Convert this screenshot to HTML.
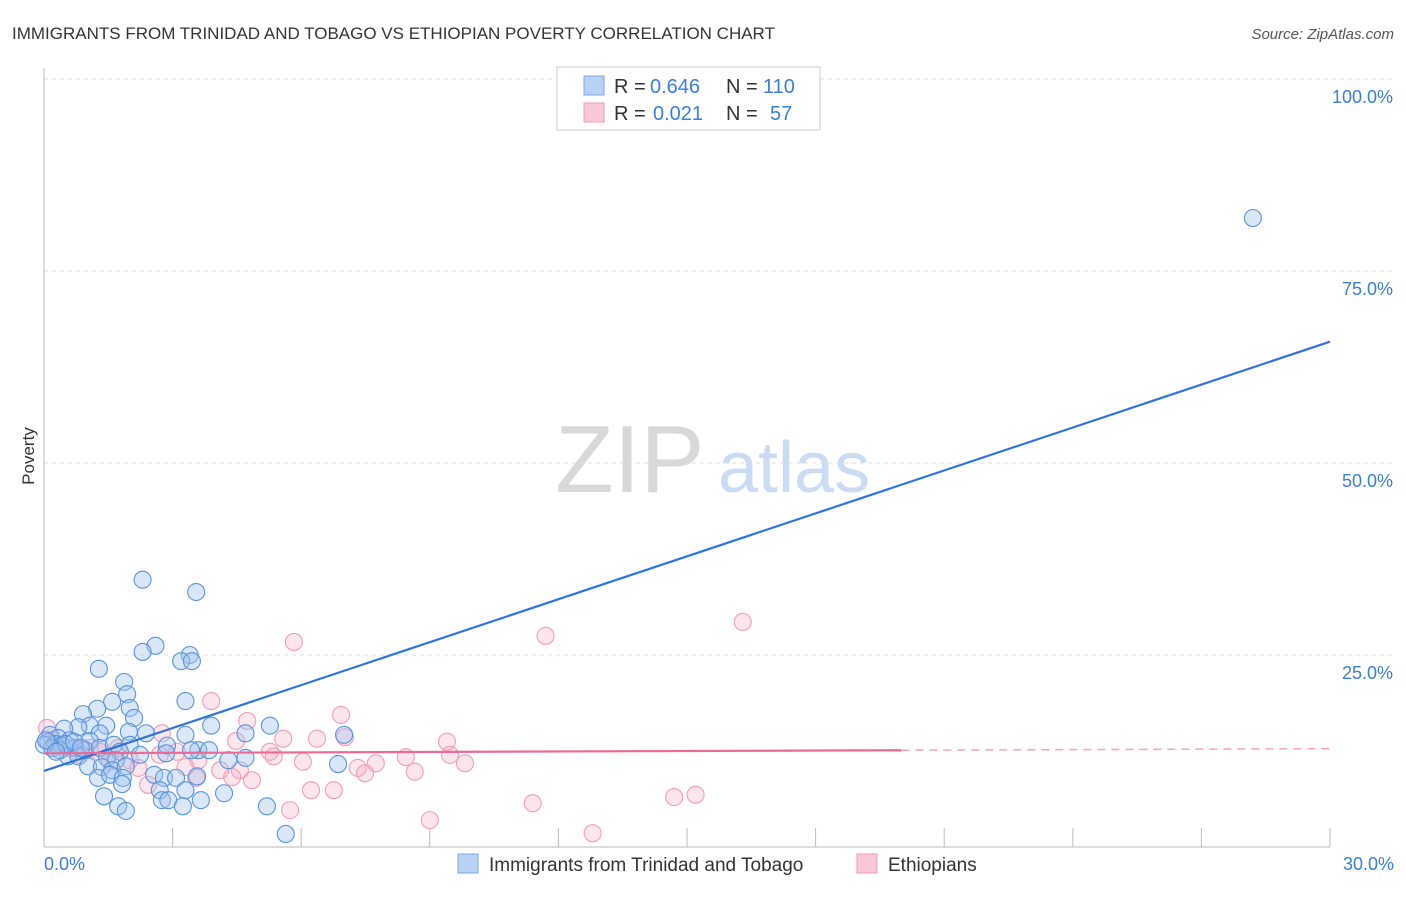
<!DOCTYPE html>
<html><head><meta charset="utf-8"><style>
body{margin:0;background:#fff;font-family:"Liberation Sans",sans-serif}
svg text{font-family:"Liberation Sans",sans-serif}
</style></head><body>
<svg id="c" width="1406" height="892">
<text x="12" y="39" font-size="17" fill="#333">IMMIGRANTS FROM TRINIDAD AND TOBAGO VS ETHIOPIAN POVERTY CORRELATION CHART</text>
<text x="1394" y="39" font-size="15" fill="#555" font-style="italic" text-anchor="end">Source: ZipAtlas.com</text>
<text x="34" y="456" font-size="17" fill="#333" transform="rotate(-90 34 456)" text-anchor="middle">Poverty</text>
<text x="555" y="492" font-size="96" fill="#d8d8d8" font-family="Liberation Serif">ZIP</text>
<text x="718" y="492" font-size="72" fill="#c9dcf3">atlas</text>
<g id="grid"></g><g id="pts"></g><g id="lines"></g>
<g>
<rect x="557" y="67" width="263" height="63" fill="#fff" stroke="#ccc"/>
<rect x="584" y="76" width="20" height="19" fill="#b7d2f4" stroke="#7aa8e0"/>
<rect x="584" y="103" width="20" height="19" fill="#f9c7d6" stroke="#f09ab5"/>
<text x="614" y="93" font-size="20" fill="#333">R =</text>
<text x="650" y="93" font-size="20" fill="#3b7dd8">0.646</text>
<text x="726" y="93" font-size="20" fill="#333">N =</text>
<text x="763" y="93" font-size="20" fill="#3b7dd8">110</text>
<text x="614" y="120" font-size="20" fill="#333">R =</text>
<text x="653" y="120" font-size="20" fill="#3b7dd8">0.021</text>
<text x="726" y="120" font-size="20" fill="#333">N =</text>
<text x="770" y="120" font-size="20" fill="#3b7dd8">57</text>
</g>
<g>
<rect x="458" y="854" width="20" height="19" fill="#b7d2f4" stroke="#7aa8e0"/>
<text x="489" y="871" font-size="19" fill="#333">Immigrants from Trinidad and Tobago</text>
<rect x="857" y="854" width="20" height="19" fill="#f9c7d6" stroke="#f09ab5"/>
<text x="888" y="871" font-size="19" fill="#333">Ethiopians</text>
</g>
</svg>
<script>
const xTicks=[0,3,6,9,12,15,18,21,24,27,30];
const yTicks=[25,50,75,100];
const yTickLabels=["25.0%","50.0%","75.0%","100.0%"];
const blueX=[28.2,2.3,3.55,2.6,2.3,3.4,3.2,3.45,1.28,3.3,1.87,1.94,1.59,2.0,1.24,0.91,2.1,3.9,5.27,1.45,1.07,0.8,0.47,1.98,2.38,3.3,4.7,7.0,1.3,0.14,0.33,0.6,1.07,0.1,0.26,0.42,0.72,0.96,1.3,1.63,2.0,2.87,3.6,3.85,3.43,2.85,1.77,2.24,0.56,0.8,1.47,1.68,4.7,4.3,6.86,1.03,1.35,1.59,1.91,2.57,2.8,3.08,3.57,1.26,1.54,1.84,1.82,2.7,3.3,4.2,1.4,2.75,2.9,3.24,3.66,1.73,1.91,5.2,5.64,0,0.19,0.05,0.37,0.51,0.7,0.28,0.86];
const blueY=[81.9,34.8,33.2,26.2,25.4,25.0,24.2,24.2,23.2,19.0,21.5,19.9,18.9,18.1,18.0,17.3,16.8,15.8,15.8,15.8,15.8,15.6,15.4,15.0,14.8,14.6,14.8,14.6,14.8,14.6,14.2,13.9,13.8,13.7,13.4,13.2,12.9,12.6,12.9,13.3,13.3,13.2,12.6,12.6,12.6,12.2,12.4,12.0,11.8,11.8,11.6,11.3,11.6,11.3,10.8,10.5,10.4,10.0,10.5,9.4,9.0,9.0,9.2,9.0,9.4,9.0,8.2,7.4,7.4,7.0,6.6,6.1,6.1,5.3,6.1,5.3,4.7,5.3,1.7,13.3,12.9,13.9,12.6,13.4,13.7,12.4,12.9];
const pinkX=[16.3,11.7,5.83,3.9,6.93,4.74,7.02,6.37,5.58,9.4,2.75,4.48,5.27,5.36,8.44,9.47,6.04,7.32,7.74,9.82,7.49,8.65,4.57,4.11,3.55,4.85,4.39,2.43,6.23,6.76,5.74,11.4,14.7,15.2,9.0,12.8,0.07,0.19,0.37,0.6,1.07,1.3,1.73,2.0,3.6,1.54,2.7,3.1,3.3,2.2,0.84];
const pinkY=[29.3,27.5,26.7,19.0,17.2,16.4,14.3,14.1,14.1,13.7,14.8,13.8,12.4,11.8,11.7,12.0,11.1,10.3,10.9,10.9,9.6,9.8,10.0,10.0,9.0,8.7,9.1,8.1,7.4,7.4,4.8,5.7,6.5,6.8,3.5,1.8,15.5,13.9,13.3,12.9,12.9,12.4,12.9,11.3,11.3,11.1,12.0,12.4,10.4,10.3,12.0];
const blueTrend=[9.9,65.8];
const pinkTrend=[12.2,12.8];
const X=v=>44+v*(1330-44)/30, Y=v=>847-v*7.68;
const NS="http://www.w3.org/2000/svg";
function mk(t,a,p){const e=document.createElementNS(NS,t);for(const k in a)e.setAttribute(k,a[k]);p.appendChild(e);return e;}
const g=document.getElementById('grid');
yTicks.forEach((v,i)=>{
 const l=mk('line',{x1:44,x2:1394,y1:Y(v),y2:Y(v),stroke:'#ddd','stroke-dasharray':'4,4'},g);
 
 
 const t=mk('text',{x:1393,y:Y(v)+24,'font-size':18,fill:'#3b7dd8','text-anchor':'end'},g);
 t.textContent=yTickLabels[i];
 
 
});
const ax=mk('line',{x1:44,x2:44,y1:68,y2:847,stroke:'#bbb'},g);


const bx=mk('line',{x1:44,x2:1330,y1:847,y2:847,stroke:'#bbb'},g);


xTicks.slice(1).forEach(v=>{
 const l=mk('line',{x1:X(v),x2:X(v),y1:828,y2:847,stroke:'#bbb'},g);
 
 
});
[[0,"0.0%","start",44],[30,"30.0%","end",1394]].forEach(d=>{
 const t=mk('text',{x:d[3],y:870,'font-size':18,fill:'#3b7dd8','text-anchor':d[2]},g);
 t.textContent=d[1];
 
 
});
const p=document.getElementById('pts');
pinkX.forEach((v,i)=>{
 const c=mk('circle',{cx:X(v),cy:Y(pinkY[i]),r:8.5,fill:'rgba(246,170,195,0.3)',stroke:'#f29cb8','stroke-width':1.1},p);
 
 
});
blueX.forEach((v,i)=>{
 const c=mk('circle',{cx:X(v),cy:Y(blueY[i]),r:8.5,fill:'rgba(160,196,240,0.4)',stroke:'#5b93d9','stroke-width':1.1},p);
 
 
});
const L=document.getElementById('lines');
const b=mk('line',{x1:X(0),y1:Y(blueTrend[0]),x2:X(30),y2:Y(blueTrend[1]),stroke:'#2f74d6','stroke-width':2.2},L);


const py=x=>pinkTrend[0]+(pinkTrend[1]-pinkTrend[0])*x/30;
const p1=mk('line',{x1:X(0),y1:Y(py(0)),x2:X(20),y2:Y(py(20)),stroke:'#ec6a96','stroke-width':2.2},L);


const p2=mk('line',{x1:X(20),y1:Y(py(20)),x2:X(30),y2:Y(py(30)),stroke:'#f2a5be','stroke-width':1.5,'stroke-dasharray':'8,6'},L);


</script>
</body></html>
